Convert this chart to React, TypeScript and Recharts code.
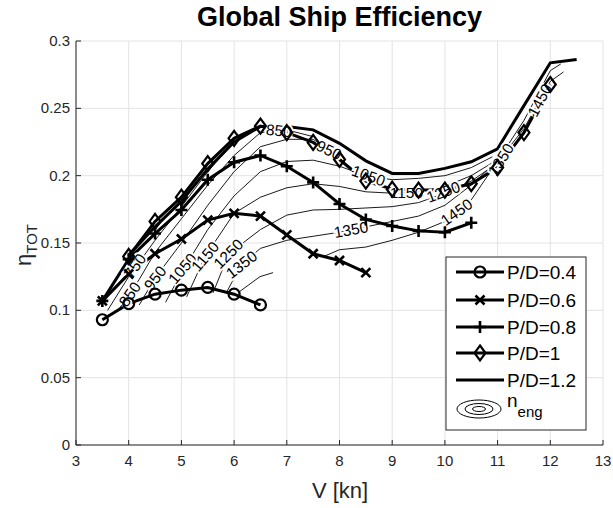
import React from "react";
import {
  ComposedChart,
  Line,
  Scatter,
  XAxis,
  YAxis,
  CartesianGrid,
  Label,
} from "recharts";

type Pt = { v: number; eta: number };

const xTicks = [3, 4, 5, 6, 7, 8, 9, 10, 11, 12, 13];
const yTicks = [0, 0.05, 0.1, 0.15, 0.2, 0.25, 0.3];

// P/D curves
const pd04: Pt[] = [
  { v: 3.5, eta: 0.093 }, { v: 4, eta: 0.105 }, { v: 4.5, eta: 0.112 },
  { v: 5, eta: 0.115 }, { v: 5.5, eta: 0.117 }, { v: 6, eta: 0.112 },
  { v: 6.5, eta: 0.104 },
];
const pd06: Pt[] = [
  { v: 3.5, eta: 0.107 }, { v: 4, eta: 0.127 }, { v: 4.5, eta: 0.142 },
  { v: 5, eta: 0.153 }, { v: 5.5, eta: 0.167 }, { v: 6, eta: 0.172 },
  { v: 6.5, eta: 0.17 }, { v: 7, eta: 0.156 }, { v: 7.5, eta: 0.142 },
  { v: 8, eta: 0.137 }, { v: 8.5, eta: 0.128 },
];
const pd08: Pt[] = [
  { v: 3.5, eta: 0.107 }, { v: 4, eta: 0.138 }, { v: 4.5, eta: 0.157 },
  { v: 5, eta: 0.1745 }, { v: 5.5, eta: 0.197 }, { v: 6, eta: 0.21 },
  { v: 6.5, eta: 0.215 }, { v: 7, eta: 0.207 }, { v: 7.5, eta: 0.195 },
  { v: 8, eta: 0.179 }, { v: 8.5, eta: 0.1675 }, { v: 9, eta: 0.1626 },
  { v: 9.5, eta: 0.159 }, { v: 10, eta: 0.158 }, { v: 10.5, eta: 0.165 },
];
const pd10: Pt[] = [
  { v: 4, eta: 0.14 }, { v: 4.5, eta: 0.166 }, { v: 5, eta: 0.184 },
  { v: 5.5, eta: 0.209 }, { v: 6, eta: 0.2277 }, { v: 6.5, eta: 0.2368 },
  { v: 7, eta: 0.232 }, { v: 7.5, eta: 0.2247 }, { v: 8, eta: 0.212 },
  { v: 8.5, eta: 0.196 }, { v: 9, eta: 0.19 }, { v: 9.5, eta: 0.1893 },
  { v: 10, eta: 0.1893 }, { v: 10.5, eta: 0.194 }, { v: 11, eta: 0.206 },
  { v: 11.5, eta: 0.232 }, { v: 12, eta: 0.2677 },
];
const pd12: Pt[] = [
  { v: 4, eta: 0.141 }, { v: 4.5, eta: 0.162 }, { v: 5, eta: 0.181 },
  { v: 5.5, eta: 0.205 }, { v: 6, eta: 0.225 }, { v: 6.5, eta: 0.2365 },
  { v: 7, eta: 0.2365 }, { v: 7.5, eta: 0.234 }, { v: 8, eta: 0.224 },
  { v: 8.5, eta: 0.211 }, { v: 9, eta: 0.2017 }, { v: 9.5, eta: 0.2017 },
  { v: 10, eta: 0.2054 }, { v: 10.5, eta: 0.2103 }, { v: 11, eta: 0.22 },
  { v: 11.5, eta: 0.252 }, { v: 12, eta: 0.2838 }, { v: 12.5, eta: 0.2863 },
];

// engine speed contours (thin lines)
const c750: Pt[] = [
  { v: 3.6, eta: 0.1 }, { v: 4, eta: 0.125 }, { v: 4.5, eta: 0.152 },
  { v: 5, eta: 0.177 }, { v: 5.5, eta: 0.203 }, { v: 6, eta: 0.225 },
  { v: 6.5, eta: 0.236 },
];
const c850: Pt[] = [
  { v: 3.8, eta: 0.1 }, { v: 4.2, eta: 0.123 }, { v: 4.5, eta: 0.143 },
  { v: 5, eta: 0.168 }, { v: 5.5, eta: 0.193 }, { v: 6, eta: 0.215 },
  { v: 6.5, eta: 0.232 }, { v: 7, eta: 0.234 }, { v: 7.5, eta: 0.229 },
];
const c950: Pt[] = [
  { v: 4.2, eta: 0.104 }, { v: 4.5, eta: 0.124 }, { v: 5, eta: 0.15 },
  { v: 5.5, eta: 0.178 }, { v: 6, eta: 0.203 }, { v: 6.5, eta: 0.2215 },
  { v: 7, eta: 0.227 }, { v: 7.5, eta: 0.227 }, { v: 7.8, eta: 0.219 },
  { v: 8.1, eta: 0.21 },
];
const c1050: Pt[] = [
  { v: 4.7, eta: 0.106 }, { v: 5, eta: 0.128 }, { v: 5.5, eta: 0.16 },
  { v: 6, eta: 0.185 }, { v: 6.5, eta: 0.203 }, { v: 7, eta: 0.2105 },
  { v: 7.5, eta: 0.2115 }, { v: 8, eta: 0.207 }, { v: 8.5, eta: 0.2 },
  { v: 9, eta: 0.197 }, { v: 9.5, eta: 0.198 }, { v: 10, eta: 0.2 },
  { v: 10.5, eta: 0.206 }, { v: 10.9, eta: 0.214 },
];
const c1150: Pt[] = [
  { v: 5.1, eta: 0.11 }, { v: 5.45, eta: 0.14 }, { v: 6, eta: 0.172 },
  { v: 6.5, eta: 0.184 }, { v: 7, eta: 0.191 }, { v: 7.5, eta: 0.194 },
  { v: 8, eta: 0.192 }, { v: 8.5, eta: 0.188 }, { v: 9, eta: 0.187 },
  { v: 9.5, eta: 0.188 }, { v: 10, eta: 0.192 }, { v: 10.5, eta: 0.2 },
  { v: 11, eta: 0.212 },
];
const c1250: Pt[] = [
  { v: 5.6, eta: 0.113 }, { v: 5.9, eta: 0.142 }, { v: 6.5, eta: 0.16 },
  { v: 7, eta: 0.1707 }, { v: 7.5, eta: 0.1745 }, { v: 8, eta: 0.175 },
  { v: 8.5, eta: 0.176 }, { v: 9, eta: 0.177 }, { v: 9.5, eta: 0.18 },
  { v: 10, eta: 0.187 }, { v: 10.5, eta: 0.196 }, { v: 10.8, eta: 0.204 },
];
const c1350: Pt[] = [
  { v: 5.85, eta: 0.113 }, { v: 6.14, eta: 0.134 }, { v: 6.5, eta: 0.146 },
  { v: 7, eta: 0.152 }, { v: 7.5, eta: 0.155 }, { v: 8, eta: 0.158 },
  { v: 8.5, eta: 0.162 }, { v: 9, eta: 0.166 }, { v: 9.5, eta: 0.17 },
  { v: 10, eta: 0.178 }, { v: 10.5, eta: 0.193 }, { v: 11, eta: 0.211 },
  { v: 11.5, eta: 0.241 }, { v: 12, eta: 0.278 }, { v: 12.2, eta: 0.283 },
];
const c1450a: Pt[] = [
  { v: 6.1, eta: 0.1138 }, { v: 6.49, eta: 0.125 }, { v: 6.74, eta: 0.128 },
];
const c1450b: Pt[] = [
  { v: 7.7, eta: 0.14 }, { v: 8, eta: 0.145 }, { v: 8.5, eta: 0.147 },
  { v: 9, eta: 0.152 }, { v: 9.5, eta: 0.158 }, { v: 10, eta: 0.166 },
  { v: 10.5, eta: 0.182 }, { v: 10.9, eta: 0.205 }, { v: 11.5, eta: 0.235 },
  { v: 12, eta: 0.27 }, { v: 12.25, eta: 0.277 },
];

const contourLabels = [
  { v: 4.12, eta: 0.133, text: "750", angle: -55 },
  { v: 4.02, eta: 0.112, text: "850", angle: -55 },
  { v: 4.5, eta: 0.124, text: "950", angle: -52 },
  { v: 5.02, eta: 0.131, text: "1050", angle: -50 },
  { v: 5.45, eta: 0.14, text: "1150", angle: -50 },
  { v: 5.89, eta: 0.142, text: "1250", angle: -45 },
  { v: 6.14, eta: 0.134, text: "1350", angle: -38 },
  { v: 6.85, eta: 0.2335, text: "850", angle: 6 },
  { v: 7.8, eta: 0.219, text: "950", angle: 25 },
  { v: 8.55, eta: 0.2, text: "1050", angle: 20 },
  { v: 9.27, eta: 0.1875, text: "1150", angle: 0 },
  { v: 9.97, eta: 0.188, text: "1250", angle: -20 },
  { v: 8.22, eta: 0.16, text: "1350", angle: -10 },
  { v: 11.06, eta: 0.212, text: "1350", angle: -58 },
  { v: 10.22, eta: 0.173, text: "1450", angle: -35 },
  { v: 11.8, eta: 0.256, text: "1450", angle: -62 },
];

const FONT = "'Liberation Sans', Arial, Helvetica, sans-serif";
const INK = "#262626";

type Kind = "o" | "x" | "+" | "d" | "none";

function Marker({ kind, cx, cy }: { kind: Kind; cx: number; cy: number }) {
  if (kind === "o")
    return <circle cx={cx} cy={cy} r={5.5} fill="none" stroke="#000" strokeWidth={2.2} />;
  if (kind === "x")
    return (
      <path
        d={`M${cx - 4.5},${cy - 4.5}L${cx + 4.5},${cy + 4.5}M${cx - 4.5},${cy + 4.5}L${cx + 4.5},${cy - 4.5}`}
        stroke="#000"
        strokeWidth={2.6}
      />
    );
  if (kind === "+")
    return (
      <path
        d={`M${cx - 6},${cy}L${cx + 6},${cy}M${cx},${cy - 6}L${cx},${cy + 6}`}
        stroke="#000"
        strokeWidth={2.6}
      />
    );
  if (kind === "d")
    return (
      <path
        d={`M${cx},${cy - 7.5}L${cx + 5.5},${cy}L${cx},${cy + 7.5}L${cx - 5.5},${cy}Z`}
        fill="none"
        stroke="#000"
        strokeWidth={2.2}
      />
    );
  return null;
}

const dotFor = (kind: Kind) => (p: any) => (
  <Marker key={`m-${kind}-${p.index}`} kind={kind} cx={p.cx} cy={p.cy} />
);

function XTick(props: any) {
  const { x, y, payload } = props;
  return (
    <g>
      <line x1={x} y1={y} x2={x} y2={y - 5} stroke={INK} strokeWidth={1} />
      <text x={x} y={y + 21} textAnchor="middle" fontSize={15} fill={INK} fontFamily={FONT}>
        {payload.value}
      </text>
    </g>
  );
}

function YTick(props: any) {
  const { x, y, payload } = props;
  return (
    <g>
      <line x1={x} y1={y} x2={x + 5} y2={y} stroke={INK} strokeWidth={1} />
      <text x={x - 6} y={y + 5} textAnchor="end" fontSize={15} fill={INK} fontFamily={FONT}>
        {payload.value}
      </text>
    </g>
  );
}

function ContourText(p: any) {
  const d = p.payload;
  return (
    <text
      x={p.cx}
      y={p.cy}
      dy={5.5}
      textAnchor="middle"
      fontSize={15.5}
      fontFamily={FONT}
      fill="#000"
      stroke="#fff"
      strokeWidth={4}
      paintOrder="stroke"
      transform={`rotate(${d.angle} ${p.cx} ${p.cy})`}
    >
      {d.text}
    </text>
  );
}

const pdSeries: { name: string; data: Pt[]; kind: Kind }[] = [
  { name: "P/D=0.4", data: pd04, kind: "o" },
  { name: "P/D=0.6", data: pd06, kind: "x" },
  { name: "P/D=0.8", data: pd08, kind: "+" },
  { name: "P/D=1", data: pd10, kind: "d" },
  { name: "P/D=1.2", data: pd12, kind: "none" },
];

const contourSeries = [c750, c850, c950, c1050, c1150, c1250, c1350, c1450a, c1450b];

function LegendBox() {
  const rows = [16, 44, 71, 97, 124];
  return (
    <svg
      width={142}
      height={175}
      style={{ position: "absolute", left: 445, top: 256 }}
    >
      <rect x={1} y={1} width={140} height={173} fill="#fff" stroke={INK} strokeWidth={1} />
      {pdSeries.map((s, i) => (
        <g key={s.name}>
          <line x1={11} x2={59} y1={rows[i]} y2={rows[i]} stroke="#000" strokeWidth={3} />
          <Marker kind={s.kind} cx={35} cy={rows[i]} />
          <text x={62} y={rows[i] + 7} fontSize={19} fontFamily={FONT} fill="#000">
            {s.name}
          </text>
        </g>
      ))}
      <g fill="none" stroke="#000" strokeWidth={1}>
        <ellipse cx={34} cy={153} rx={22} ry={9} />
        <ellipse cx={34} cy={153} rx={14} ry={5.5} />
        <ellipse cx={34} cy={153} rx={6.5} ry={2.5} />
      </g>
      <text x={62} y={151} fontSize={19} fontFamily={FONT} fill="#000">
        n
        <tspan fontSize={15} dy={10}>eng</tspan>
      </text>
    </svg>
  );
}

export default function App() {
  return (
    <div
      style={{
        position: "absolute",
        left: 0,
        top: 0,
        width: 613,
        height: 508,
        background: "#fff",
        fontFamily: FONT,
      }}
    >
      <div
        style={{
          position: "absolute",
          left: 76,
          top: 1,
          width: 527,
          textAlign: "center",
          fontSize: 27,
          fontWeight: "bold",
          color: "#000",
          lineHeight: "33px",
        }}
      >
        Global Ship Efficiency
      </div>
      <ComposedChart
        width={613}
        height={508}
        margin={{ top: 41, right: 10, left: 16, bottom: 23 }}
      >
        <CartesianGrid stroke="#e3e3e3" strokeWidth={1} />
        <XAxis
          dataKey="v"
          type="number"
          domain={[3, 13]}
          ticks={xTicks}
          allowDataOverflow
          height={40}
          tickSize={0}
          tickMargin={0}
          tickLine={false}
          tick={<XTick />}
          axisLine={{ stroke: INK, strokeWidth: 1 }}
          interval={0}
        >
          <Label
            content={() => (
              <text x={340} y={498} textAnchor="middle" fontSize={22} fill={INK} fontFamily={FONT}>
                V [kn]
              </text>
            )}
          />
        </XAxis>
        <YAxis
          dataKey="eta"
          type="number"
          domain={[0, 0.3]}
          ticks={yTicks}
          allowDataOverflow
          width={60}
          tickSize={0}
          tickMargin={0}
          tickLine={false}
          tick={<YTick />}
          axisLine={{ stroke: INK, strokeWidth: 1 }}
          interval={0}
        >
          <Label
            content={() => (
              <text
                transform="translate(31,245) rotate(-90)"
                textAnchor="middle"
                fontSize={22}
                fill={INK}
                fontFamily={FONT}
              >
                η<tspan fontSize={15} dy={6}>TOT</tspan>
              </text>
            )}
          />
        </YAxis>
        {contourSeries.map((c, i) => (
          <Line
            key={`c${i}`}
            data={c}
            dataKey="eta"
            stroke="#000"
            strokeWidth={0.9}
            dot={false}
            activeDot={false}
            isAnimationActive={false}
          />
        ))}
        <Scatter
          data={contourLabels}
          dataKey="eta"
          shape={ContourText}
          isAnimationActive={false}
        />
        {pdSeries.map((s) => (
          <Line
            key={s.name}
            name={s.name}
            data={s.data}
            dataKey="eta"
            stroke="#000"
            strokeWidth={3}
            dot={s.kind === "none" ? false : dotFor(s.kind)}
            activeDot={false}
            isAnimationActive={false}
          />
        ))}
      </ComposedChart>
      <LegendBox />
    </div>
  );
}
